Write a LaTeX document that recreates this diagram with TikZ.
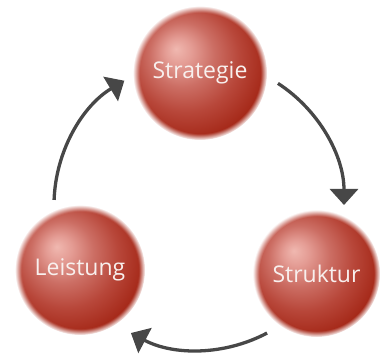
\documentclass[tikz,border=0pt]{standalone}
\usepackage{fontspec}
\newfontfamily\ballfont{Open Sans}
\usepackage{tikz}
\usetikzlibrary{arrows.meta,fadings}

\definecolor{ballA}{HTML}{F0B8B0}
\definecolor{ballB}{HTML}{E49C94}
\definecolor{ballC}{HTML}{CC6E64}
\definecolor{ballD}{HTML}{B8473A}
\definecolor{ballE}{HTML}{A62A1A}
\definecolor{ballF}{HTML}{9E2010}
\definecolor{arrowgray}{HTML}{474747}
\definecolor{balltext}{HTML}{F8F0EE}

\pgfdeclareradialshading{redball}{\pgfpoint{-9bp}{9bp}}{%
  color(0bp)=(ballA); color(5bp)=(ballB); color(12bp)=(ballC);
  color(20bp)=(ballD); color(28bp)=(ballE); color(38bp)=(ballF);
  color(50bp)=(ballF)}
\pgfdeclareradialshading{softedgeshade}{\pgfpointorigin}{%
  color(0bp)=(white); color(22.5bp)=(white);
  color(25bp)=(black); color(50bp)=(black)}
\pgfdeclarefading{softedge}{\pgfuseshading{softedgeshade}}

\begin{document}
\begin{tikzpicture}[
        x=1pt, y=1pt,
        ball/.style={circle, shading=redball, path fading=softedge, text=balltext, font=\ballfont\fontsize{23}{27}\selectfont, inner sep=0pt},
        arrow/.style={-{Triangle[width=28pt, length=16pt]}, line width=3.3pt, draw=arrowgray}
    ]
    \useasboundingbox (0,0) rectangle (382,353);

    % Centre of the cycle
    \coordinate (hub) at (199,148);

    % Spheres
    \node[ball, minimum size=134pt] (strategie) at (200,280) {Strategie};
    \node[ball, minimum size=127pt] (struktur) at (316.5,79.5) {Struktur};
    \node[ball, minimum size=130pt] (leistung) at (80,83) {Leistung};

    % Arrow starts
    \coordinate (a1) at ([shift={(57:145)}]hub);
    \coordinate (a2) at ([shift={(-62:145)}]hub);
    \coordinate (a3) at ([shift={(178:145)}]hub);

    % Arrows
    \draw[arrow] (a1) arc[start angle=57, end angle=0, radius=145];
    \draw[arrow] (a2) arc[start angle=-62, end angle=-118, radius=145];
    \draw[arrow] (a3) arc[start angle=178, end angle=121, radius=145];

\end{tikzpicture}
\end{document}
